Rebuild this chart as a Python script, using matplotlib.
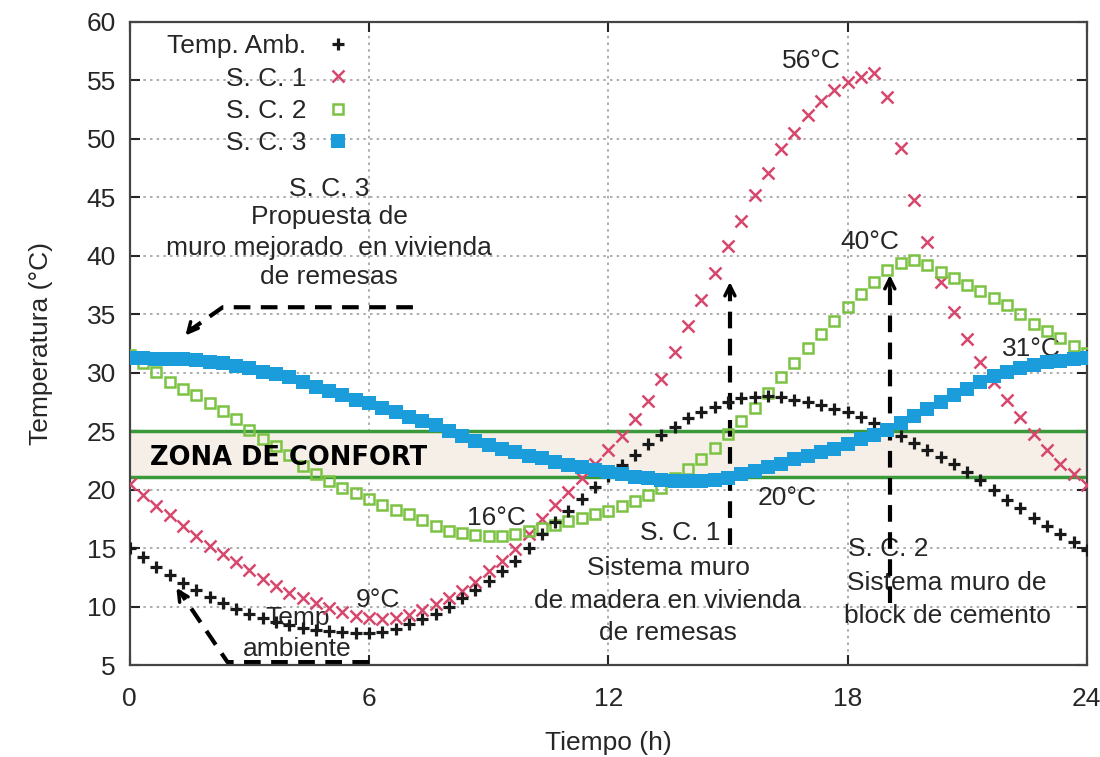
import numpy as np
import matplotlib
matplotlib.use("Agg")
import matplotlib.pyplot as plt

plt.rcParams['font.family'] = ['Liberation Sans', 'DejaVu Sans']

# hourly samples every 20 minutes
horas = np.linspace(0, 24, 73)

temp_amb = [15.0, 14.2, 13.4, 12.7, 12.0, 11.4, 10.8, 10.3, 9.8, 9.4,
            9.0, 8.7, 8.4, 8.2, 8.0, 7.9, 7.8, 7.7, 7.7, 7.8,
            8.1, 8.5, 8.9, 9.4, 10.0, 10.7, 11.4, 12.2, 13.0, 13.9,
            15.0, 16.2, 17.2, 18.2, 19.2, 20.2, 21.2, 22.1, 23.0, 23.9,
            24.7, 25.4, 26.1, 26.6, 27.1, 27.5, 27.8, 27.95, 28.0, 27.9,
            27.7, 27.5, 27.2, 26.9, 26.6, 26.2, 25.7, 25.2, 24.6, 24.0,
            23.4, 22.8, 22.2, 21.5, 20.8, 20.0, 19.1, 18.4, 17.6, 16.9,
            16.2, 15.5, 14.8]

sc1 = [20.5, 19.5, 18.6, 17.8, 16.9, 16.0, 15.2, 14.5, 13.8, 13.1,
       12.4, 11.8, 11.2, 10.7, 10.3, 9.9, 9.5, 9.2, 9.0, 8.9,
       9.0, 9.3, 9.7, 10.2, 10.7, 11.3, 12.1, 13.0, 13.9, 14.9,
       16.2, 17.5, 18.7, 19.8, 21.0, 22.2, 23.4, 24.6, 26.0, 27.6,
       29.5, 31.8, 34.0, 36.2, 38.5, 40.8, 43.0, 45.2, 47.1, 49.1,
       50.5, 52.0, 53.2, 54.2, 54.9, 55.3, 55.6, 53.6, 49.2, 44.8,
       41.2, 37.8, 35.2, 32.9, 30.9, 29.2, 27.7, 26.2, 24.8, 23.4,
       22.2, 21.3, 20.4]

sc2 = [31.5, 30.8, 30.1, 29.2, 28.6, 28.1, 27.4, 26.7, 26.0, 25.1,
       24.3, 23.7, 23.0, 22.0, 21.3, 20.7, 20.1, 19.7, 19.2, 18.7,
       18.3, 17.9, 17.4, 16.9, 16.5, 16.3, 16.1, 16.0, 16.0, 16.2,
       16.5, 16.7, 17.0, 17.3, 17.6, 17.9, 18.2, 18.6, 19.0, 19.5,
       20.1, 21.0, 21.8, 22.6, 23.6, 24.8, 25.9, 27.0, 28.3, 29.6,
       30.8, 32.1, 33.3, 34.4, 35.6, 36.7, 37.8, 38.8, 39.4, 39.6,
       39.2, 38.6, 38.1, 37.5, 37.0, 36.4, 35.8, 35.0, 34.2, 33.6,
       33.0, 32.3, 31.7]

sc3 = [31.3, 31.3, 31.2, 31.2, 31.2, 31.1, 30.9, 30.8, 30.6, 30.4,
       30.1, 29.9, 29.6, 29.2, 28.8, 28.4, 28.1, 27.7, 27.4, 27.0,
       26.6, 26.2, 25.9, 25.5, 25.0, 24.6, 24.2, 23.8, 23.5, 23.2,
       22.9, 22.7, 22.4, 22.1, 21.9, 21.7, 21.5, 21.3, 21.1, 21.0,
       20.8, 20.7, 20.7, 20.7, 20.8, 21.0, 21.3, 21.6, 21.9, 22.2,
       22.6, 22.9, 23.2, 23.5, 23.9, 24.3, 24.7, 25.1, 25.7, 26.3,
       26.9, 27.5, 28.1, 28.6, 29.2, 29.7, 30.1, 30.4, 30.7, 30.9,
       31.0, 31.2, 31.3]

confort_min = 21.1
confort_max = 25.0

texto = '#262626'
fs = 19

fig = plt.figure(figsize=(11, 7.57), dpi=100)
ax = fig.add_axes([0.118, 0.1215, 0.870, 0.8495])

# zona de confort
ax.axhspan(confort_min, confort_max, color='#f5efe8', zorder=1)
ax.axhline(confort_max, color='#3a9a3a', lw=2.5, zorder=1.5)
ax.axhline(confort_min, color='#3a9a3a', lw=2.5, zorder=1.5)
ax.text(0.5, 22.7, 'ZONA DE CONFORT', fontsize=18.5, fontweight='bold',
        family=['DejaVu Sans'], color='black', va='center', ha='left', zorder=6)

ax.plot(horas, temp_amb, ls='none', marker='+', ms=8.5, mew=2.3, color='#1a1a1a',
        label='Temp. Amb.', zorder=4)
ax.plot(horas, sc1, ls='none', marker='x', ms=8, mew=1.8, color='#d6476d',
        label='S. C. 1', zorder=3)
ax.plot(horas, sc2, ls='none', marker='s', ms=7.5, mew=1.8, mfc='none',
        mec='#7cc243', label='S. C. 2', zorder=3.5)
ax.plot(horas, sc3, ls='none', marker='s', ms=9.5, mew=0, color='#1c9ddb',
        label='S. C. 3', zorder=5)

ax.set_xlim(0, 24)
ax.set_ylim(5, 60)
ax.set_xticks([0, 6, 12, 18, 24])
ax.set_yticks(np.arange(5, 61, 5))
ax.grid(True, color='#a0a0a0', ls=(0, (1.5, 2.5)), lw=1.2, zorder=0)
ax.set_axisbelow(True)
ax.tick_params(direction='in', length=7, width=1.5, top=True, right=True,
               labelsize=fs, colors=texto)
ax.tick_params(axis='x', pad=16)
ax.tick_params(axis='y', pad=10)
for s in ax.spines.values():
    s.set_linewidth(1.6)
    s.set_color('#444444')
ax.set_xlabel('Tiempo (h)', fontsize=fs, color=texto, labelpad=14)
ax.set_ylabel('Temperatura (°C)', fontsize=fs, color=texto, labelpad=24)

leg = ax.legend(loc='upper right', bbox_to_anchor=(0.2425, 0.997), frameon=False,
                markerfirst=False, fontsize=fs, handlelength=1.0,
                handletextpad=0.7, labelspacing=0.31, numpoints=1,
                borderaxespad=0.2, borderpad=0.2)
for t in leg.get_texts():
    t.set_color(texto)

# valores extremos
etiquetas = [(17.1, 56.7, '56°C'), (18.56, 41.2, '40°C'), (22.6, 32.0, '31°C'),
             (16.48, 19.3, '20°C'), (9.2, 17.6, '16°C'), (6.22, 10.6, '9°C')]
for x, y, s in etiquetas:
    ax.text(x, y, s, fontsize=fs, color=texto, ha='center', va='center', zorder=2)

def bloque(x, ys, lineas, ha='center'):
    for y, s in zip(ys, lineas):
        ax.text(x, y, s, fontsize=fs, color=texto, ha=ha, va='center', zorder=2)

bloque(5.0, [45.7, 43.3, 40.7, 38.2],
       ['S. C. 3', 'Propuesta de', 'muro mejorado  en vivienda', 'de remesas'])
bloque(13.8, [16.3], ['S. C. 1'])
bloque(13.5, [13.3, 10.5, 7.7],
       ['Sistema muro', 'de madera en vivienda', 'de remesas'])
bloque(18.0, [14.9], ['S. C. 2'], ha='left')
bloque(20.5, [12.0, 9.2], ['Sistema muro de', 'block de cemento'])
bloque(4.2, [9.0, 6.35], ['Temp', 'ambiente'])

# flechas discontinuas
guion = dict(color='black', lw=3, ls=(0, (4, 2.5)), zorder=2.5)
ax.plot([7.1, 2.33, 1.5], [35.6, 35.6, 33.6], **guion)
ax.plot([6.0, 2.45, 1.25], [5.25, 5.25, 11.3], **guion)
ax.plot([15.05, 15.05], [15.3, 37.0], **guion)
ax.plot([19.06, 19.06], [10.3, 37.5], **guion)
punta = dict(arrowstyle='->', lw=2.5, color='black', mutation_scale=18)
ax.annotate('', xy=(1.35, 33.0), xytext=(1.6, 34.0), arrowprops=punta, zorder=2.5)
ax.annotate('', xy=(1.13, 11.8), xytext=(1.3, 10.9), arrowprops=punta, zorder=2.5)
ax.annotate('', xy=(15.05, 38.0), xytext=(15.05, 36.5), arrowprops=punta, zorder=2.5)
ax.annotate('', xy=(19.06, 38.6), xytext=(19.06, 37.0), arrowprops=punta, zorder=2.5)

fig.savefig('out.png', dpi=100)
